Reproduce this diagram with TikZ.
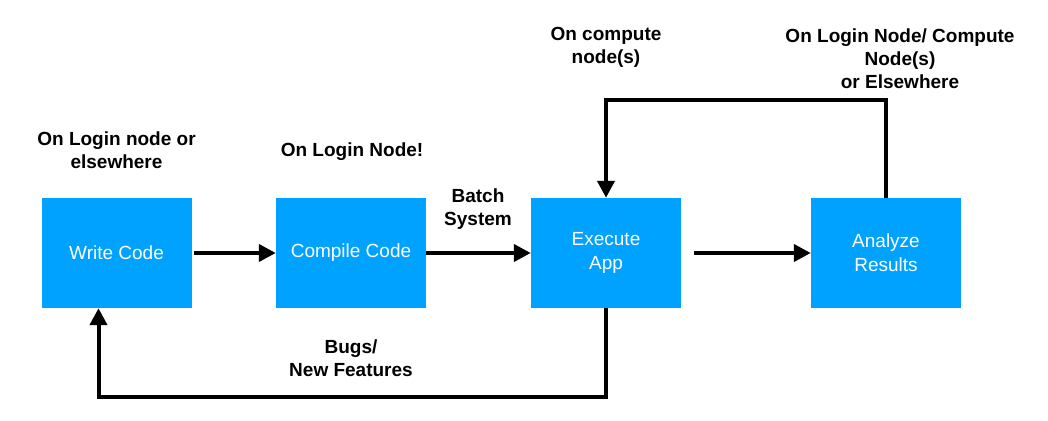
\documentclass[tikz,border=0pt]{standalone}
\usepackage{fontspec}
\setmainfont{Liberation Sans}
\usetikzlibrary{arrows.meta}
\definecolor{boxblue}{RGB}{0,162,255}

\begin{document}
\begin{tikzpicture}[x=1pt,y=-1pt,
  box/.style={fill=boxblue,text=white,minimum width=150pt,minimum height=110pt,
    align=center,font=\fontsize{19}{24}\selectfont},
  lbl/.style={align=center,font=\fontsize{19}{23}\selectfont\bfseries},
  arr/.style={line width=4pt,-{Triangle[length=17pt,width=17pt]}}]
 \useasboundingbox (0,0) rectangle (1048,420);
 % the four steps
 \node[box] (write) at (116.5,253) {Write Code};
 \node[box] (comp)  at (351,253) {Compile Code};
 \node[box] (exe)   at (606,253) {Execute\\App};
 \node[box] (ana)   at (886,253) {Analyze\\Results};
 % where it happens
 \node[lbl] (wherewrite) at (116.5,150) {On Login node or\\elsewhere};
 \node[lbl] (wherecomp)  at (352,152) {On Login Node!};
 \node[lbl] (whereexe)   at (606,47) {On compute\\node(s)};
 \node[lbl] (whereana)   at (900,59) {On Login Node/ Compute\\Node(s)\\or Elsewhere};
 \node[lbl] (batch)      at (478,209) {Batch\\System};
 \node[lbl] (bugs)       at (351,358) {Bugs/\\New Features};
 % arrows
 \draw[arr,shorten <=2pt] (write) -- (comp);
 \draw[arr] (comp) -- (exe);
 \draw[arr,shorten <=13pt] (exe) -- (ana);
 \draw[arr] (ana.north) -- ++(0,-98) -| (exe.north);
 \draw[arr] (exe.south) -- ++(0,89) -| ([xshift=-18pt]write.south);
\end{tikzpicture}
\end{document}
